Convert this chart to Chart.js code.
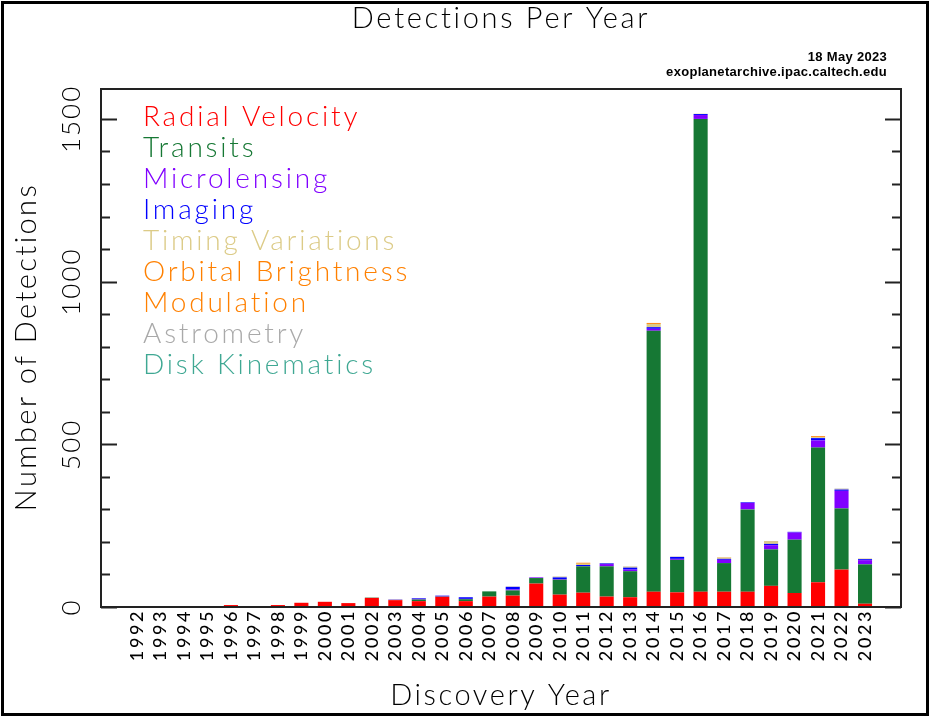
<!DOCTYPE html>
<html>
<head>
<meta charset="utf-8">
<script src="https://cdn.jsdelivr.net/npm/chart.js@4.4.0/dist/chart.umd.min.js"></script>
<style>
    html, body { margin: 0; padding: 0; background: #fff; }
    #wrap { position: relative; width: 931px; height: 719px; }
</style>
</head>
<body>
<div id="wrap"><canvas id="detections-chart"></canvas></div>
<script>
const years = [1992, 1993, 1994, 1995, 1996, 1997, 1998, 1999, 2000, 2001, 2002, 2003, 2004, 2005, 2006, 2007,
    2008, 2009, 2010, 2011, 2012, 2013, 2014, 2015, 2016, 2017, 2018, 2019, 2020, 2021, 2022, 2023];

const radialVelocity = [0, 0, 0, 1, 6, 1, 6, 13, 16, 12, 28, 21, 18, 31, 18, 32,
    35, 72, 38, 44, 32, 30, 47, 45, 47, 47, 47, 65, 43, 76, 115, 10];
const transits = [0, 0, 0, 0, 0, 0, 0, 0, 0, 0, 1, 1, 5, 1, 6, 16,
    16, 17, 46, 81, 93, 80, 802, 100, 1453, 88, 253, 112, 164, 414, 188, 121];
const microlensing = [0, 0, 0, 0, 0, 0, 0, 0, 0, 0, 0, 1, 2, 2, 1, 0,
    3, 2, 2, 1, 7, 5, 6, 3, 12, 10, 20, 13, 22, 22, 54, 13];
const imaging = [0, 0, 0, 0, 0, 0, 0, 0, 0, 0, 0, 0, 2, 1, 5, 0,
    8, 0, 5, 3, 2, 6, 5, 6, 3, 3, 2, 4, 2, 7, 4, 3];
const timingVariations = [2, 0, 1, 0, 0, 0, 0, 0, 0, 0, 0, 0, 0, 0, 0, 0,
    1, 0, 2, 4, 1, 3, 10, 1, 1, 4, 0, 6, 0, 3, 2, 2];
const orbitalBrightness = [0, 0, 0, 0, 0, 0, 0, 0, 0, 0, 0, 0, 0, 0, 0, 0,
    0, 0, 0, 3, 0, 0, 3, 0, 0, 1, 0, 1, 0, 3, 0, 0];
const astrometry = [0, 0, 0, 0, 0, 0, 0, 0, 0, 0, 0, 0, 0, 0, 0, 0,
    0, 0, 1, 0, 0, 1, 0, 0, 0, 0, 0, 0, 0, 0, 1, 0];
const diskKinematics = [0, 0, 0, 0, 0, 0, 0, 0, 0, 0, 0, 0, 0, 0, 0, 0,
    0, 0, 0, 0, 0, 0, 0, 0, 0, 0, 0, 1, 0, 0, 0, 0];

const yMajorTicks = [0, 500, 1000, 1500];
const yMinorTicks = [100, 200, 300, 400, 600, 700, 800, 900, 1100, 1200, 1300, 1400];

const titleText = 'Detections Per Year';
const stampLines = ['18 May 2023', 'exoplanetarchive.ipac.caltech.edu'];
const yTitle = 'Number of Detections';
const xTitle = 'Discovery Year';

const FONT = 'Lato, "Liberation Sans", sans-serif';

function series(label, data, color) {
    return {
        label,
        data,
        backgroundColor: color,
        borderWidth: 0,
        barPercentage: 0.6,
        categoryPercentage: 1.0,
    };
}

// frame, inward ticks, rotated y labels, title, stamp and text legend
const decor = {
    id: 'decor',
    beforeDraw(chart) {
        // wide spacing for the plotter-style lettering (also picked up by the x axis)
        chart.ctx.letterSpacing = '2.6px';
    },
    afterDraw(chart) {
        const { ctx, chartArea: a, scales: { y } } = chart;
        ctx.save();

        ctx.strokeStyle = '#000';
        ctx.lineWidth = 3;
        ctx.strokeRect(2.5, 2.5, 925, 712);

        ctx.strokeStyle = '#222';
        ctx.lineWidth = 2;
        ctx.strokeRect(a.left, a.top, a.right - a.left, a.bottom - a.top);

        const tick = (v, len) => {
            const py = Math.round(y.getPixelForValue(v)) + 0.5;
            ctx.beginPath();
            ctx.moveTo(a.left, py);
            ctx.lineTo(a.left + len, py);
            ctx.moveTo(a.right, py);
            ctx.lineTo(a.right - len, py);
            ctx.stroke();
        };
        yMajorTicks.forEach((v) => tick(v, 16));
        yMinorTicks.forEach((v) => tick(v, 9));

        ctx.fillStyle = '#000';
        ctx.textAlign = 'center';
        ctx.textBaseline = 'middle';
        ctx.letterSpacing = '2px';
        ctx.font = '300 26px ' + FONT;
        yMajorTicks.forEach((v) => {
            ctx.save();
            ctx.translate(72, y.getPixelForValue(v));
            ctx.rotate(-Math.PI / 2);
            ctx.fillText(String(v), 0, 0);
            ctx.restore();
        });

        ctx.letterSpacing = '2.4px';
        ctx.save();
        ctx.translate(27, 347);
        ctx.rotate(-Math.PI / 2);
        ctx.font = '300 29px ' + FONT;
        ctx.fillText(yTitle, 0, 0);
        ctx.restore();

        ctx.letterSpacing = '2.7px';
        ctx.font = '300 29px ' + FONT;
        ctx.fillText(titleText, (a.left + a.right) / 2, 19);

        ctx.letterSpacing = '0.3px';
        ctx.textAlign = 'right';
        ctx.font = 'bold 13px "Liberation Sans", sans-serif';
        ctx.fillText(stampLines[0], 887, 57);
        ctx.fillText(stampLines[1], 887, 72);

        ctx.letterSpacing = '2.8px';
        ctx.textAlign = 'left';
        ctx.font = '300 28px ' + FONT;
        let ly = 117;
        chart.data.datasets.forEach((ds) => {
            ctx.fillStyle = ds.backgroundColor;
            ds.label.split('\n').forEach((line) => {
                ctx.fillText(line, 143, ly);
                ly += 31;
            });
        });

        ctx.restore();
    },
};

new Chart(document.getElementById('detections-chart'), {
    type: 'bar',
    data: {
        labels: years,
        datasets: [
            series('Radial Velocity', radialVelocity, '#ff0000'),
            series('Transits', transits, '#167834'),
            series('Microlensing', microlensing, '#8000ff'),
            series('Imaging', imaging, '#0000ff'),
            series('Timing Variations', timingVariations, '#dccb87'),
            series('Orbital Brightness\nModulation', orbitalBrightness, '#ff8000'),
            series('Astrometry', astrometry, '#a9a9a9'),
            series('Disk Kinematics', diskKinematics, '#3fa893'),
        ],
    },
    options: {
        responsive: true,
        maintainAspectRatio: false,
        animation: false,
        layout: { padding: { top: 89, right: 30, left: 0, bottom: 0 } },
        plugins: {
            legend: { display: false },
            tooltip: { enabled: false },
        },
        scales: {
            x: {
                type: 'linear',
                stacked: true,
                min: 1991,
                max: 2024,
                afterBuildTicks(scale) {
                    scale.ticks = years.map((v) => ({ value: v }));
                },
                afterFit(scale) {
                    scale.height = 112;
                },
                grid: { display: false, drawTicks: false },
                border: { display: false },
                ticks: {
                    color: '#000',
                    minRotation: 90,
                    maxRotation: 90,
                    autoSkip: false,
                    padding: 2,
                    font: { family: FONT, size: 18, weight: '500' },
                    callback: (v) => String(v),
                },
                title: {
                    display: true,
                    text: xTitle,
                    color: '#000',
                    font: { family: FONT, size: 29, weight: '300' },
                    padding: { top: 0, bottom: 6 },
                },
            },
            y: {
                stacked: true,
                min: 0,
                max: 1592,
                afterFit(scale) {
                    scale.width = 101;
                },
                grid: { display: false },
                border: { display: false },
                ticks: { display: false },
            },
        },
    },
    plugins: [decor],
});
</script>
</body>
</html>
